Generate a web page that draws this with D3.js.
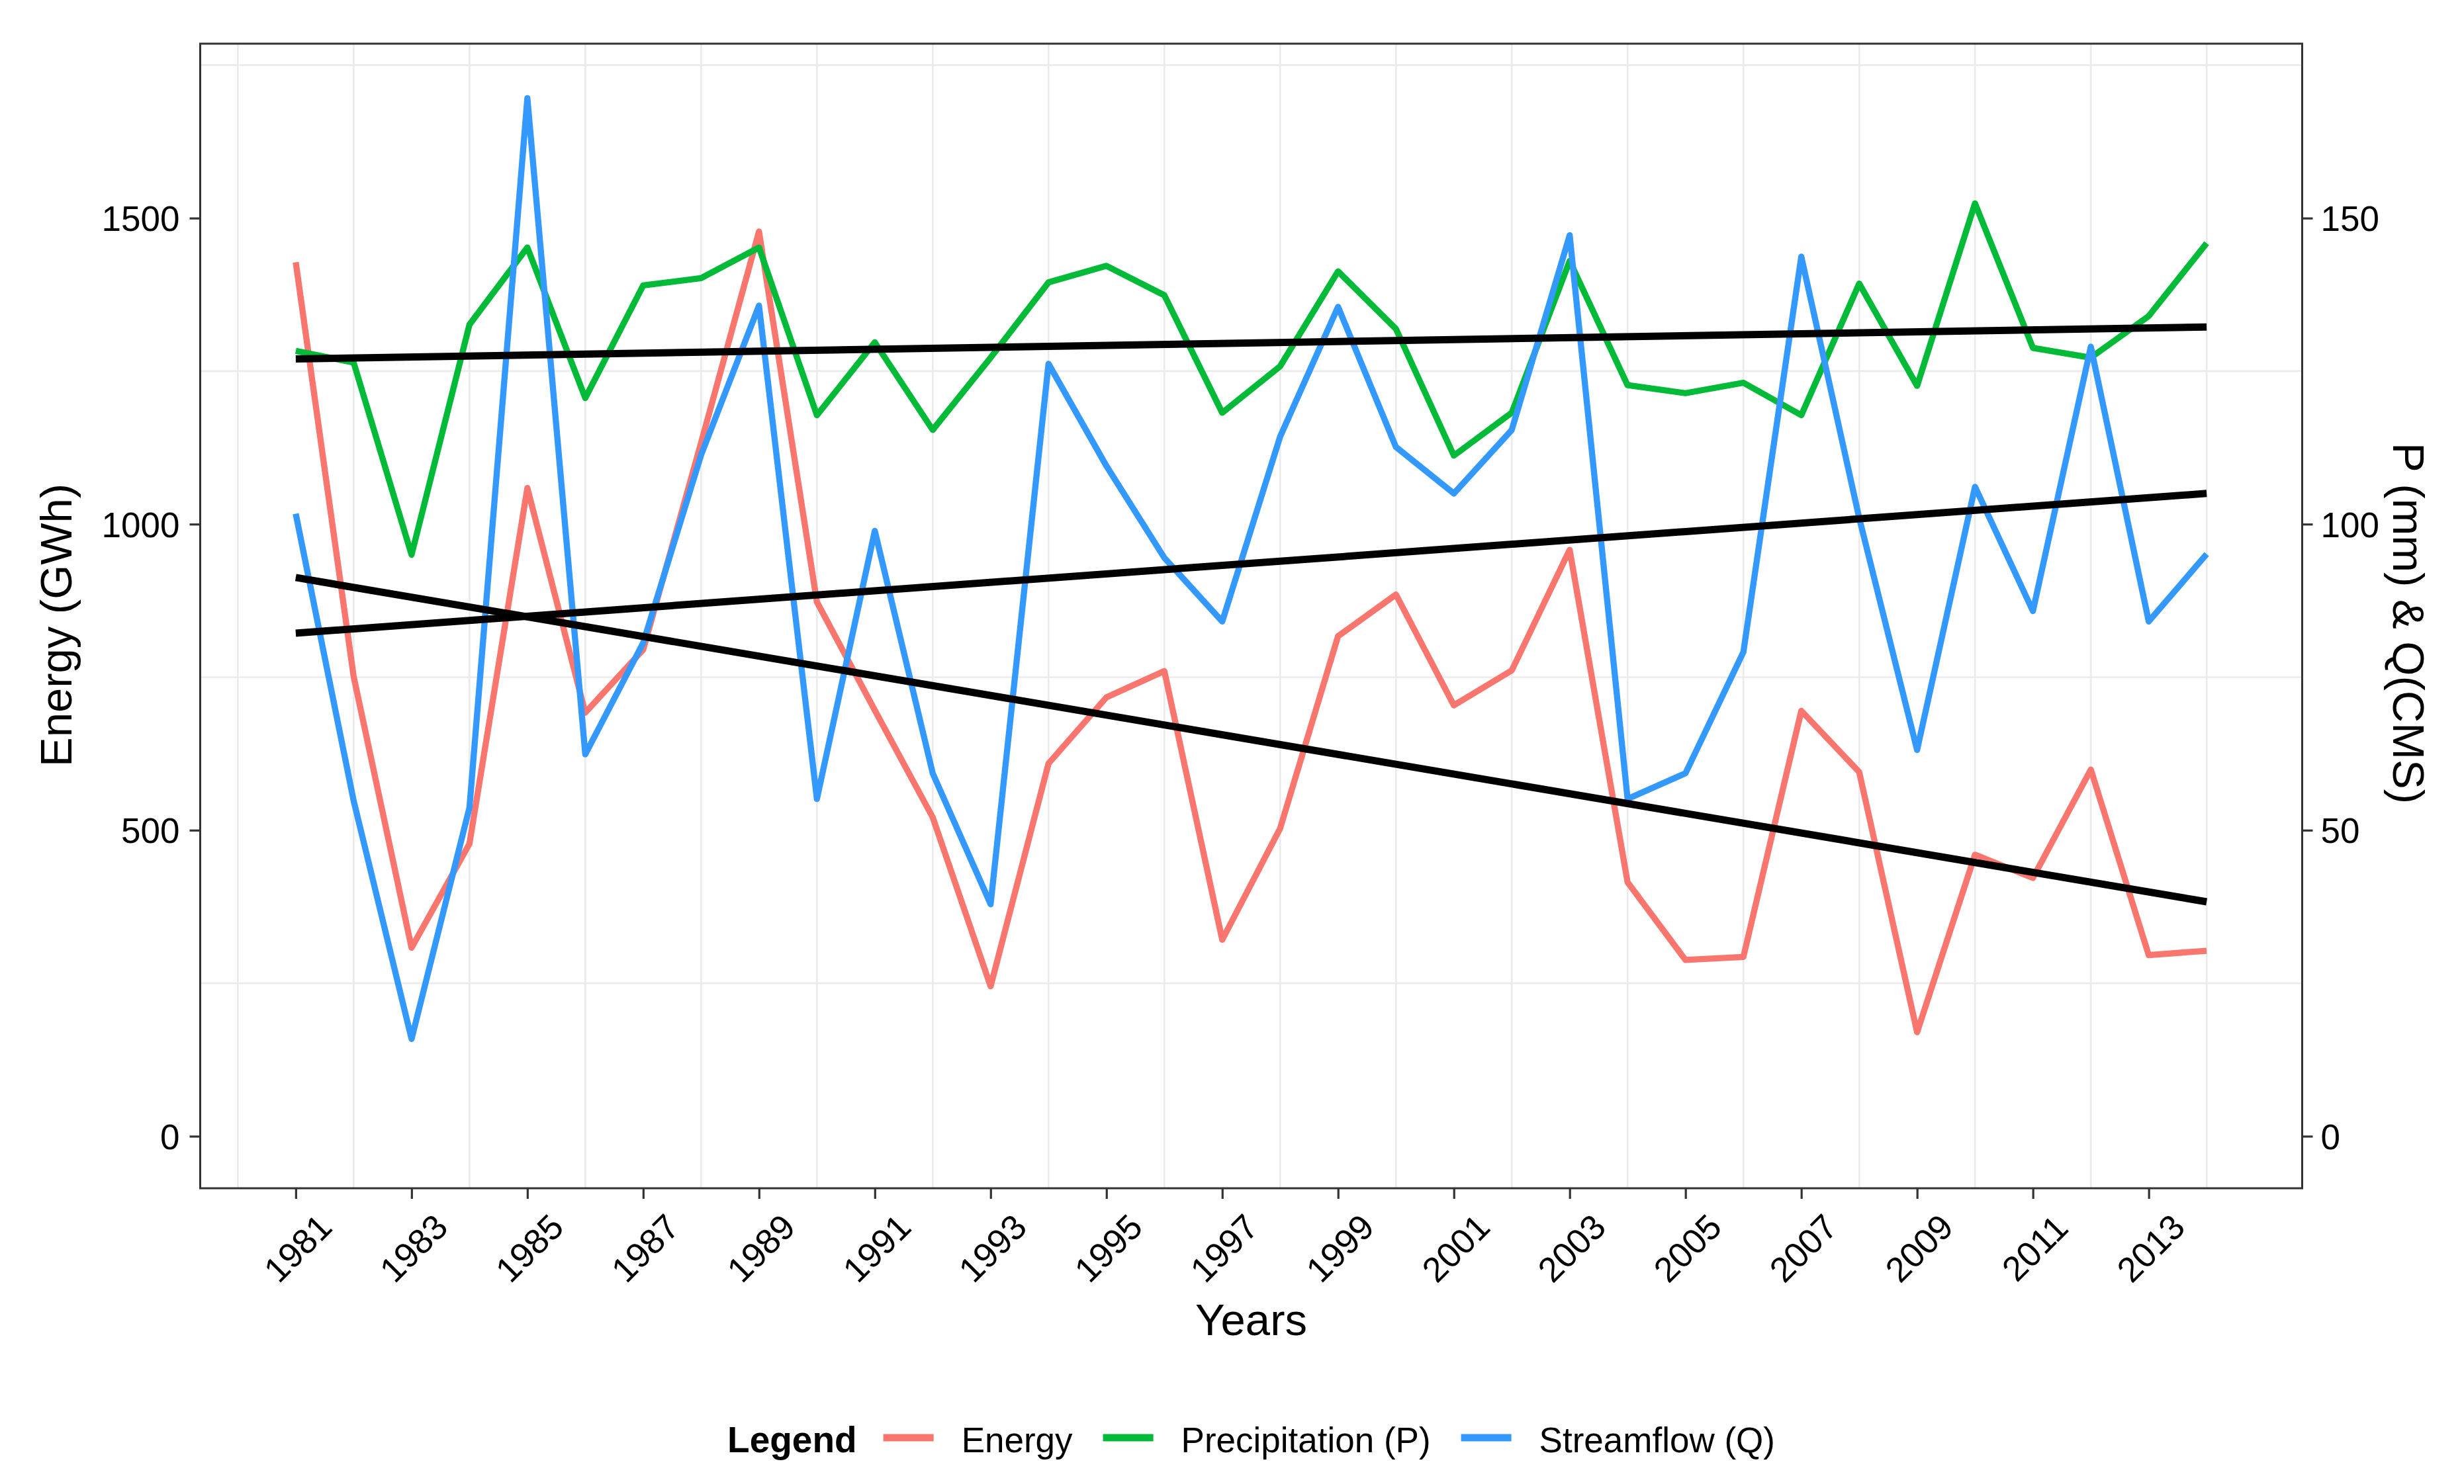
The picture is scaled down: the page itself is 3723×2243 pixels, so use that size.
<!DOCTYPE html>
<html>
<head>
<meta charset="utf-8">
<script src="https://cdn.jsdelivr.net/npm/d3@7"></script>
<style>
  html, body { margin: 0; padding: 0; background: #ffffff; }
  svg { display: block; }
  text { font-family: "Liberation Sans", Arial, Helvetica, sans-serif; }
</style>
</head>
<body>
<svg id="chart" width="3723" height="2243"></svg>
<script>
// ---------------- DATA ----------------
const years = [1981,1982,1983,1984,1985,1986,1987,1988,1989,1990,1991,1992,1993,1994,1995,1996,1997,
               1998,1999,2000,2001,2002,2003,2004,2005,2006,2007,2008,2009,2010,2011,2012,2013,2014];
// Energy (GWh) - primary axis
const energy = [1428,751,308,478,1059,692,795,1133,1478,873,696,521,245,609,717,760,321,
                503,817,885,704,761,958,415,288,293,695,595,170,460,422,599,296,303];
// Precipitation P (mm) - secondary axis
const precip = [128.3,126.4,95.0,132.6,145.2,120.6,139.0,140.2,145.2,117.8,129.7,115.4,127.2,139.5,142.2,137.4,118.2,
                125.8,141.3,131.9,111.2,118.2,143.0,122.7,121.4,123.1,117.8,139.3,122.6,152.4,128.8,127.2,134.0,145.9];
// Streamflow Q (CMS) - secondary axis
const streamflow = [101.7,54.8,15.9,53.7,169.6,62.4,80.6,111.3,135.7,55.1,98.9,59.3,37.9,126.2,109.5,94.5,84.1,
                    114.3,135.5,112.6,105.0,115.4,147.2,55.1,59.3,79.1,143.7,101.0,63.1,106.1,85.8,129.0,84.1,95.1];

const xTickLabels = [1981,1983,1985,1987,1989,1991,1993,1995,1997,1999,2001,2003,2005,2007,2009,2011,2013];
const xMinorGrid = [1980,1982,1984,1986,1988,1990,1992,1994,1996,1998,2000,2002,2004,2006,2008,2010,2012,2014];
const yTicks = [0,500,1000,1500];
const yMinorGrid = [250,750,1250,1750];
const ySecTicks = [0,50,100,150];
const secFactor = 10;   // secondary axis = primary / 10

const seriesNames = ["Energy","Precipitation (P)","Streamflow (Q)"];
const seriesColors = ["#F8766D","#00BA38","#3399FF"];

// ---------------- LAYOUT ----------------
const P = {left: 302.5, right: 3478.5, top: 66, bottom: 1796};
const svg = d3.select("#chart");
svg.append("rect").attr("width",3723).attr("height",2243).attr("fill","#ffffff");

const x = d3.scaleLinear().domain([1979.35, 2015.65]).range([P.left, P.right]);
const y = d3.scaleLinear().domain([-85, 1785]).range([P.bottom, P.top]);
const ySec = d3.scaleLinear().domain([-85/secFactor, 1785/secFactor]).range([P.bottom, P.top]);

// grid (minor only)
const grid = svg.append("g");
grid.selectAll("line.v").data(xMinorGrid).join("line")
  .attr("x1", d => x(d)).attr("x2", d => x(d))
  .attr("y1", P.top).attr("y2", P.bottom)
  .attr("stroke", "#ebebeb").attr("stroke-width", 2.7);
grid.selectAll("line.h").data(yMinorGrid).join("line")
  .attr("x1", P.left).attr("x2", P.right)
  .attr("y1", d => y(d)).attr("y2", d => y(d))
  .attr("stroke", "#ebebeb").attr("stroke-width", 2.7);

// lines
const plot = svg.append("g");
const lineE = d3.line().x((d,i) => x(years[i])).y(d => y(d));
const lineS = d3.line().x((d,i) => x(years[i])).y(d => ySec(d));
const seriesData = [
  {vals: energy, gen: lineE, color: seriesColors[0]},
  {vals: precip, gen: lineS, color: seriesColors[1]},
  {vals: streamflow, gen: lineS, color: seriesColors[2]}
];
seriesData.forEach(s => {
  plot.append("path").datum(s.vals)
    .attr("d", s.gen)
    .attr("fill", "none")
    .attr("stroke", s.color)
    .attr("stroke-width", 9.3)
    .attr("stroke-linejoin", "round")
    .attr("stroke-linecap", "butt");
});

// linear trend lines (least squares)
function linfit(xs, ys) {
  const mx = d3.mean(xs), my = d3.mean(ys);
  let sxy = 0, sxx = 0;
  xs.forEach((xv,i) => { sxy += (xv-mx)*(ys[i]-my); sxx += (xv-mx)*(xv-mx); });
  const b = sxy / sxx;
  return xv => my + b*(xv - mx);
}
const x0 = years[0], x1 = years[years.length-1];
[{vals: energy, sc: y}, {vals: precip, sc: ySec}, {vals: streamflow, sc: ySec}].forEach(s => {
  const f = linfit(years, s.vals);
  plot.append("line")
    .attr("x1", x(x0)).attr("y1", s.sc(f(x0)))
    .attr("x2", x(x1)).attr("y2", s.sc(f(x1)))
    .attr("stroke", "#000000").attr("stroke-width", 11)
    .attr("stroke-linecap", "butt");
});

// panel border
svg.append("rect")
  .attr("x", P.left).attr("y", P.top)
  .attr("width", P.right - P.left).attr("height", P.bottom - P.top)
  .attr("fill", "none").attr("stroke", "#333333").attr("stroke-width", 3);

// axes
function styleAxis(g) {
  g.select(".domain").remove();
  g.selectAll(".tick line").attr("stroke", "#333333").attr("stroke-width", 3.2);
  g.selectAll(".tick text").attr("fill", "#000000").attr("font-size", 53)
    .style("font-family", '"Liberation Sans", Arial, sans-serif');
}
const gL = svg.append("g").attr("transform", `translate(${P.left},0)`)
  .call(d3.axisLeft(y).tickValues(yTicks).tickFormat(d3.format("d")).tickSize(16).tickPadding(15));
styleAxis(gL);
gL.selectAll(".tick text").attr("dy", "0.36em");

const gR = svg.append("g").attr("transform", `translate(${P.right},0)`)
  .call(d3.axisRight(ySec).tickValues(ySecTicks).tickFormat(d3.format("d")).tickSize(16).tickPadding(12));
styleAxis(gR);
gR.selectAll(".tick text").attr("dy", "0.36em");

const gB = svg.append("g").attr("transform", `translate(0,${P.bottom})`)
  .call(d3.axisBottom(x).tickValues(xTickLabels).tickFormat(d3.format("d")).tickSize(16));
styleAxis(gB);
gB.selectAll(".tick text")
  .attr("x", null).attr("y", null)
  .attr("dy", "0.36em")
  .attr("text-anchor", "middle")
  .attr("transform", "translate(2,90) rotate(-45)");

// axis titles
svg.append("text")
  .attr("transform", `translate(108,945) rotate(-90)`)
  .attr("text-anchor", "middle").attr("font-size", 67).attr("fill", "#000")
  .text("Energy (GWh)");
svg.append("text")
  .attr("transform", `translate(3616,942) rotate(90)`)
  .attr("text-anchor", "middle").attr("font-size", 67).attr("fill", "#000")
  .text("P (mm) & Q(CMS)");
svg.append("text")
  .attr("x", (P.left + P.right)/2).attr("y", 2018)
  .attr("text-anchor", "middle").attr("font-size", 67).attr("fill", "#000")
  .text("Years");

// legend
const leg = svg.append("g");
const baseY = 2195, keyY = 2173;
let cx = 0;
const title = leg.append("text").attr("x", cx).attr("y", baseY)
  .attr("font-size", 55).attr("font-weight", "bold").attr("fill", "#000").text("Legend");
cx += title.node().getComputedTextLength() + 40;
seriesNames.forEach((name, i) => {
  leg.append("line").attr("x1", cx).attr("x2", cx + 76).attr("y1", keyY).attr("y2", keyY)
    .attr("stroke", seriesColors[i]).attr("stroke-width", 11);
  cx += 76 + 42;
  const t = leg.append("text").attr("x", cx).attr("y", baseY)
    .attr("font-size", 53).attr("fill", "#000").text(name);
  cx += t.node().getComputedTextLength();
  if (i < seriesNames.length - 1) cx += 46;
});
leg.attr("transform", `translate(${(P.left + P.right)/2 - cx/2},0)`);
</script>
</body>
</html>
